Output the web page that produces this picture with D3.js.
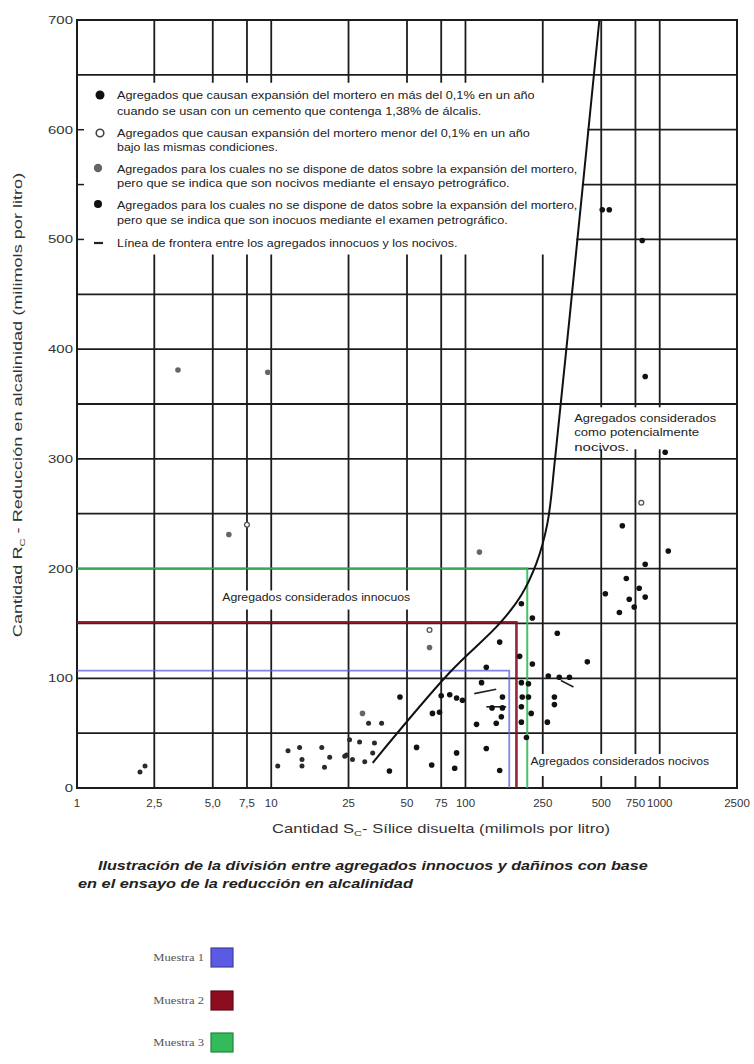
<!DOCTYPE html>
<html>
<head>
<meta charset="utf-8">
<script src="https://cdn.jsdelivr.net/npm/d3@7"></script>
<style>
  body { margin: 0; background: #fff; }
  svg { display: block; font-family: "Liberation Sans", Arial, sans-serif; }
</style>
</head>
<body>
<div id="chart"></div>
<script>
// DATA

const xTicks = [1, 2.5, 5, 7.5, 10, 25, 50, 75, 100, 250, 500, 750, 1000, 2500];
const xTickLabels = ["1", "2,5", "5,0", "7,5", "10", "25", "50", "75", "100", "250", "500", "750", "1000", "2500"];
const yTicks = [0, 100, 200, 300, 400, 500, 600, 700];
const yGrid = [50, 100, 150, 200, 250, 300, 350, 400, 450, 500, 550, 600, 650];

// boundary line between innocuous and deleterious aggregates
const boundarySc = [33.3, 82.7, 150, 194, 232, 264, 290, 377, 489];
const boundaryRc = [23, 105, 150, 176, 205, 241, 302, 500, 700];

// aggregates (Sc, Rc)
const nocivosPts = [
  [506, 527], [550, 527], [813, 499], [842, 375], [1067, 306], [642, 239], [1107, 216],
  [842, 204], [673, 191], [784, 182], [525, 177], [842, 174], [697, 172], [739, 165], [620, 160],
  [194, 168], [221, 155], [297, 141], [150, 133], [190, 120], [221, 113], [128, 110], [424, 115],
  [267, 102], [343, 101], [304, 101], [121, 96], [194, 96], [211, 95], [196, 83], [211, 83],
  [287, 83], [155, 83], [287, 76], [194, 74], [137, 73], [155, 73], [218, 68], [153, 65],
  [264, 60], [194, 60], [144, 59], [114, 58], [206, 46], [128, 36], [90, 32], [88, 18],
  [150, 16], [67, 21], [56, 37], [40.6, 15.5], [73.5, 69], [67.6, 68], [90, 82], [96.5, 80],
  [83, 85], [75, 84], [46, 83]
];
const innocuosPetroPts = [
  [2.11, 14.5], [2.24, 20], [10.8, 20], [12.2, 34], [14, 37], [14.4, 26], [14.4, 20],
  [18.2, 37], [20, 28], [18.8, 19], [23.9, 29], [26.2, 26], [25.3, 44], [31.7, 59], [37, 59],
  [28.5, 42], [34, 41], [24.4, 30], [30.3, 24], [33.3, 32]
];
const nocivosPetroPts = [[3.31, 381], [9.6, 379], [6.05, 231], [118, 215], [29.5, 68], [65.3, 128]];
const innocuosPts = [[7.5, 240], [804, 260], [65.3, 144]];
// short strokes drawn on the original sheet
const strokeFrom = [[111, 86], [128, 74], [310, 98]];
const strokeTo = [[144, 90], [162, 74], [360, 92]];

// the three samples tested
const sampleNames = ["Muestra 1", "Muestra 2", "Muestra 3"];
const sampleSc = [168, 183, 208];
const sampleRc = [107, 151, 200];
const sampleColors = ["#5a5ae4", "#8c0d1e", "#33bb5a"];

const legendLines = [
  ["Agregados que causan expansión del mortero en más del 0,1% en un año",
   "cuando se usan con un cemento que contenga 1,38% de álcalis."],
  ["Agregados que causan expansión del mortero menor del 0,1% en un año",
   "bajo las mismas condiciones."],
  ["Agregados para los cuales no se dispone de datos sobre la expansión del mortero,",
   "pero que se indica que son nocivos mediante el ensayo petrográfico."],
  ["Agregados para los cuales no se dispone de datos sobre la expansión del mortero,",
   "pero que se indica que son inocuos mediante el examen petrográfico."],
  ["Línea de frontera entre los agregados innocuos y los nocivos."]
];

// CONST and GLOBALS
const width = 754, height = 1064;
const margin = { top: 20, right: 17, bottom: 276, left: 77 };
const ink = "#1c1c1c";

const svg = d3.select("#chart").append("svg")
  .attr("width", width)
  .attr("height", height);

const xScale = d3.scaleLog()
  .domain([1, 2500])
  .range([margin.left, width - margin.right]);

const yScale = d3.scaleLinear()
  .domain([0, 700])
  .range([height - margin.bottom, margin.top]);

const xL = margin.left, xR = width - margin.right;
const yB = height - margin.bottom, yT = margin.top;

// stretches a text so it spans a given width (the scanned figure is wide)
function fitText(parent, str, x, y, w, opts = {}) {
  const g = parent.append("g");
  const t = g.append("text")
    .attr("font-size", opts.size || 11)
    .attr("fill", opts.fill || "#222")
    .attr("font-weight", opts.weight || null)
    .attr("font-style", opts.style || null)
    .attr("font-family", opts.family || null)
    .attr("text-anchor", opts.anchor || "start");
  if (opts.build) opts.build(t); else t.text(str);
  const real = t.node().getComputedTextLength();
  const sx = w ? w / real : (opts.sx || 1);
  g.attr("transform", `translate(${x},${y})${opts.rotate ? ` rotate(${opts.rotate})` : ""} scale(${sx},1)`);
  return t;
}

// GRID
svg.append("g").selectAll("line")
  .data(yGrid)
  .join("line")
  .attr("x1", xL).attr("x2", xR)
  .attr("y1", (d) => yScale(d)).attr("y2", (d) => yScale(d))
  .attr("stroke", ink).attr("stroke-width", 1.8);

svg.append("g").selectAll("line")
  .data(xTicks.slice(1, -1))
  .join("line")
  .attr("x1", (d) => xScale(d)).attr("x2", (d) => xScale(d))
  .attr("y1", yT).attr("y2", yB)
  .attr("stroke", ink).attr("stroke-width", 1.8);

// white band that holds the legend, left of the boundary line
const bpx = boundarySc.map((d, i) => [xScale(d), yScale(boundaryRc[i])]);
function curveXAt(py) {
  for (let i = 0; i < bpx.length - 1; i++) {
    const a = bpx[i], b = bpx[i + 1];
    if (py <= a[1] && py >= b[1]) return a[0] + (b[0] - a[0]) * (a[1] - py) / (a[1] - b[1]);
  }
  return bpx[bpx.length - 1][0];
}
const bandTop = yScale(650) + 8, bandBot = yScale(500) + 15;
const band = [[xL + 1, bandTop], [curveXAt(bandTop) - 1, bandTop]]
  .concat(bpx.filter((p) => p[1] > bandTop && p[1] < bandBot).reverse().map((p) => [p[0] - 1, p[1]]))
  .concat([[curveXAt(bandBot) - 1, bandBot], [xL + 1, bandBot]]);
svg.append("polygon")
  .attr("points", band.map((p) => p.join(",")).join(" "))
  .attr("fill", "#fff");

svg.append("g").selectAll("line")
  .data([500, 550, 600])
  .join("line")
  .attr("x1", xL).attr("x2", xL + 7)
  .attr("y1", (d) => yScale(d)).attr("y2", (d) => yScale(d))
  .attr("stroke", ink).attr("stroke-width", 1.5);

// white boxes behind the region labels
const labelBoxes = [
  { sc: 5.55, rc: 180, w: 192, h: 19 },
  { sc: 214, rc: 31, w: 185, h: 22 },
  { sc: 361, rc: 347, w: 146, h: 42 }
];
svg.append("g").selectAll("rect")
  .data(labelBoxes)
  .join("rect")
  .attr("x", (d) => xScale(d.sc))
  .attr("y", (d) => yScale(d.rc))
  .attr("width", (d) => d.w)
  .attr("height", (d) => d.h)
  .attr("fill", "#fff");

// frame
svg.append("rect")
  .attr("x", xL).attr("y", yT)
  .attr("width", xR - xL).attr("height", yB - yT)
  .attr("fill", "none").attr("stroke", ink).attr("stroke-width", 2);

// SAMPLE LINES
const samples = sampleNames.map((n, i) => ({ n, sc: sampleSc[i], rc: sampleRc[i], c: sampleColors[i] }));
svg.append("g").selectAll("path")
  .data(samples)
  .join("path")
  .attr("d", (d) => `M${xL},${yScale(d.rc)}H${xScale(d.sc)}V${yB}`)
  .attr("fill", "none")
  .attr("stroke", (d) => d.c)
  .attr("stroke-opacity", (d, i) => (i === 0 ? 0.75 : 0.9))
  .attr("stroke-width", (d, i) => [1.8, 2.6, 2][i]);

// BOUNDARY
svg.append("path")
  .datum(boundarySc.map((d, i) => [d, boundaryRc[i]]))
  .attr("d", d3.line().x((d) => xScale(d[0])).y((d) => yScale(d[1])).curve(d3.curveCatmullRom.alpha(0.5)))
  .attr("fill", "none")
  .attr("stroke", "#111")
  .attr("stroke-width", 2);

// POINTS
svg.append("g").selectAll("line")
  .data(strokeFrom.map((d, i) => [d, strokeTo[i]]))
  .join("line")
  .attr("x1", (d) => xScale(d[0][0])).attr("y1", (d) => yScale(d[0][1]))
  .attr("x2", (d) => xScale(d[1][0])).attr("y2", (d) => yScale(d[1][1]))
  .attr("stroke", "#222").attr("stroke-width", 1.6);

svg.append("g").selectAll("circle")
  .data(nocivosPts)
  .join("circle")
  .attr("cx", (d) => xScale(d[0])).attr("cy", (d) => yScale(d[1]))
  .attr("r", 2.8).attr("fill", "#111");

svg.append("g").selectAll("circle")
  .data(innocuosPetroPts)
  .join("circle")
  .attr("cx", (d) => xScale(d[0])).attr("cy", (d) => yScale(d[1]))
  .attr("r", 2.5).attr("fill", "#2a2a2a");

svg.append("g").selectAll("circle")
  .data(nocivosPetroPts)
  .join("circle")
  .attr("cx", (d) => xScale(d[0])).attr("cy", (d) => yScale(d[1]))
  .attr("r", 2.8).attr("fill", "#666");

svg.append("g").selectAll("circle")
  .data(innocuosPts)
  .join("circle")
  .attr("cx", (d) => xScale(d[0])).attr("cy", (d) => yScale(d[1]))
  .attr("r", 2.4).attr("fill", "#fff").attr("stroke", "#555").attr("stroke-width", 1.3);

// AXES labels
svg.append("g").selectAll("g")
  .data(xTicks)
  .join("g")
  .each(function (d, i) {
    fitText(d3.select(this), xTickLabels[i], xScale(d), yB + 19, null, { size: 11.5, anchor: "middle", sx: 1.0, fill: "#333" });
  });

svg.append("g").selectAll("g")
  .data(yTicks)
  .join("g")
  .each(function (d) {
    fitText(d3.select(this), String(d), xL - 4, yScale(d) + 4, null, { size: 11.5, anchor: "end", sx: 1.3, fill: "#333" });
  });

fitText(svg, null, 441, yB + 45, 338, {
  size: 12, anchor: "middle", fill: "#333",
  build: (t) => {
    t.append("tspan").text("Cantidad S");
    t.append("tspan").attr("font-size", 8).attr("dy", 3).text("C");
    t.append("tspan").attr("dy", -3).text("- Sílice disuelta (milimols por litro)");
  }
});

fitText(svg, null, 22, 405, 465, {
  size: 13, anchor: "middle", rotate: -90, fill: "#333",
  build: (t) => {
    t.append("tspan").text("Cantidad R");
    t.append("tspan").attr("font-size", 8).attr("dy", 3).text("C");
    t.append("tspan").attr("dy", -3).text("  - Reducción en alcalinidad (milimols por litro)");
  }
});

// region labels
fitText(svg, "Agregados considerados innocuos", xScale(5.6), yScale(170), 188, { size: 10 });
fitText(svg, "Agregados considerados nocivos", xScale(216), yScale(21), 179, { size: 10 });
["Agregados considerados", "como potencialmente", "nocivos."].forEach((s, i) => {
  fitText(svg, s, xScale(363), yScale(334) + i * 14.5, [142, 125, 55][i], { size: 10 });
});

// LEGEND inside the plot
const legendY = [[98.5, 114.5], [136.5, 150.5], [172.5, 186.5], [208.5, 223.5], [246.5]];
const legendW = [[418, 365], [413, 161], [461, 393], [461, 391], [341]];
legendLines.forEach((lines, i) => {
  lines.forEach((s, j) => fitText(svg, s, 117, legendY[i][j], legendW[i][j], { size: 10 }));
});
const sym = svg.append("g");
sym.append("circle").attr("cx", 100).attr("cy", 95).attr("r", 4.5).attr("fill", "#111");
sym.append("circle").attr("cx", 100).attr("cy", 133).attr("r", 3.8)
  .attr("fill", "#fff").attr("stroke", "#444").attr("stroke-width", 1.6);
sym.append("circle").attr("cx", 98).attr("cy", 168).attr("r", 4.2).attr("fill", "#666");
sym.append("circle").attr("cx", 98).attr("cy", 204).attr("r", 4).attr("fill", "#111");
sym.append("line").attr("x1", 94).attr("x2", 103).attr("y1", 243).attr("y2", 243)
  .attr("stroke", "#222").attr("stroke-width", 2.2);

// CAPTION
fitText(svg, "Ilustración de la división entre agregados innocuos y dañinos con base", 98, 870, 550,
  { size: 12, weight: "bold", style: "italic", fill: "#222" });
fitText(svg, "en el ensayo de la reducción en alcalinidad", 78, 888, 335,
  { size: 12, weight: "bold", style: "italic", fill: "#222" });

// SAMPLE LEGEND
const boxY = [948, 991, 1033];
samples.forEach((d, i) => {
  fitText(svg, d.n, 204, boxY[i] + 13, null,
    { size: 10.5, anchor: "end", family: "'Liberation Serif', serif", fill: "#555", sx: 1.2 });
  svg.append("rect")
    .attr("x", 211).attr("y", boxY[i])
    .attr("width", 22).attr("height", 19)
    .attr("fill", d.c)
    .attr("stroke", d3.color(d.c).darker(1))
    .attr("stroke-width", 1.2);
});
</script>
</body>
</html>
